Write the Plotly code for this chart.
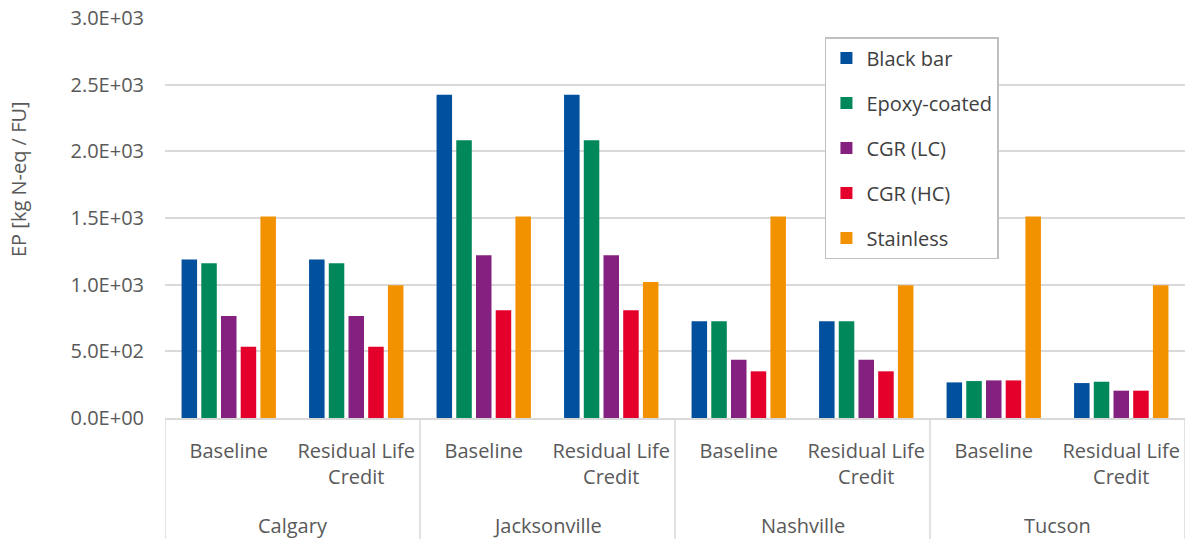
import plotly.graph_objects as go

cities = ["Calgary", "Calgary", "Jacksonville", "Jacksonville",
          "Nashville", "Nashville", "Tucson", "Tucson"]
scenarios = ["Baseline", "Residual Life<br>Credit"] * 4

black_bar = [1188, 1188, 2425, 2425, 725, 725, 267, 262]
epoxy = [1160, 1160, 2083, 2083, 725, 725, 277, 272]
cgr_lc = [765, 765, 1220, 1220, 437, 437, 282, 205]
cgr_hc = [535, 535, 808, 808, 350, 350, 282, 205]
stainless = [1512, 995, 1512, 1020, 1512, 995, 1512, 995]

series_names = ["Black bar", "Epoxy-coated", "CGR (LC)", "CGR (HC)", "Stainless"]
series_values = [black_bar, epoxy, cgr_lc, cgr_hc, stainless]
series_colors = ["#00509E", "#00875A", "#84207F", "#E4002B", "#F39200"]

y_tickvals = [0, 500, 1000, 1500, 2000, 2500, 3000]
y_ticktext = ["0.0E+00", "5.0E+02", "1.0E+03", "1.5E+03", "2.0E+03", "2.5E+03", "3.0E+03"]
y_title = "EP [kg N-eq / FU]"

x_keys = [f"{c}|{s}" for c, s in zip(cities, scenarios)]
city_order = list(dict.fromkeys(cities))

fig = go.Figure()
for name, vals, col in zip(series_names, series_values, series_colors):
    fig.add_trace(go.Bar(
        x=x_keys, y=vals, name=name, legendgroup=name,
        marker=dict(color=col, line=dict(width=0)),
    ))

# group dividers and city labels from category indices
idx = 0
bounds = [-0.5]
for city in city_order:
    n = cities.count(city)
    fig.add_annotation(
        x=idx + (n - 1) / 2, xref="x", y=-0.2675, yref="paper",
        text=city, showarrow=False, xanchor="center", yanchor="middle",
        font=dict(size=20, color="#595959"),
    )
    idx += n
    bounds.append(idx - 0.5)
for b in bounds:
    fig.add_shape(type="line", xref="x", yref="paper", x0=b, x1=b,
                  y0=0, y1=-0.31, line=dict(color="#D9D9D9", width=1.5))

font_family = "Open Sans, Liberation Sans, sans-serif"
fig.add_annotation(
    x=(18 - 165) / 1020, xref="paper", y=0.5975, yref="paper",
    text=y_title, textangle=-90, showarrow=False,
    xanchor="center", yanchor="middle",
    font=dict(size=20, color="#595959"),
)

fig.update_layout(
    width=1193, height=539,
    margin=dict(l=165, r=8, t=18, b=121),
    plot_bgcolor="white", paper_bgcolor="white",
    barmode="group", bargap=0.227, bargroupgap=0.213,
    font=dict(family=font_family, size=20, color="#595959"),
    showlegend=True,
    legend=dict(
        x=0.647, y=0.9525, xanchor="left", yanchor="top",
        bgcolor="white", bordercolor="#BFBFBF", borderwidth=1.5,
        font=dict(size=20, color="#404040"), tracegroupgap=16,
    ),
    xaxis=dict(
        type="category", automargin=False,
        tickvals=x_keys, ticktext=scenarios,
        showline=True, linecolor="#D9D9D9", linewidth=1.5,
        ticks="", ticklabelstandoff=14,
        tickfont=dict(size=20, color="#595959"),
        range=[-0.5, len(x_keys) - 0.5],
    ),
    yaxis=dict(
        automargin=False,
        range=[0, 3000], tickvals=y_tickvals, ticktext=y_ticktext,
        showgrid=True, gridcolor="#D9D9D9", gridwidth=1.5,
        zeroline=False, showline=False, ticks="", ticklabelstandoff=20,
        tickfont=dict(size=20, color="#595959"),
    ),
)

fig.write_html("out.html", config={"displayModeBar": False},
               post_script="document.body.style.margin='0';document.body.style.overflow='hidden';")
